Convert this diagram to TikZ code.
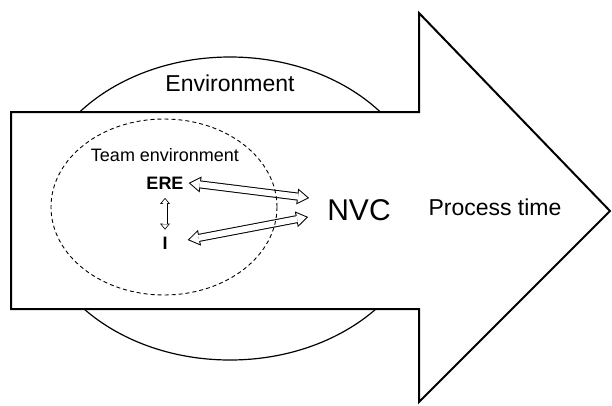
\documentclass[tikz,border=0pt]{standalone}
\usepackage{fontspec}
\setmainfont{Liberation Sans}
\usetikzlibrary{arrows.meta}

\begin{document}
\begin{tikzpicture}[x=1pt, y=-1pt,
  bigout/.style={line width=8pt, {Triangle[length=12pt,width=16pt,line width=0pt]}-{Triangle[length=12pt,width=16pt,line width=0pt]}},
  bigin/.style={white, line width=6pt, shorten <=1.8pt, shorten >=1.8pt, {Triangle[length=9.2pt,width=12.3pt,line width=0pt]}-{Triangle[length=9.2pt,width=12.3pt,line width=0pt]}},
  smallout/.style={line width=5pt, {Triangle[length=6pt,width=10pt,line width=0pt]}-{Triangle[length=6pt,width=10pt,line width=0pt]}},
  smallin/.style={white, line width=3.4pt, shorten <=1.25pt, shorten >=1.25pt, {Triangle[length=3.95pt,width=6.6pt,line width=0pt]}-{Triangle[length=3.95pt,width=6.6pt,line width=0pt]}},
  lbl/.style={inner sep=0pt}]
  \useasboundingbox (0,0) rectangle (612,405);
  % environment and process arrow
  \draw[line width=1.2pt] (230,208.5) ellipse [x radius=195pt, y radius=151.5pt];
  \draw[line width=2pt, fill=white, line join=miter] (11,112) -- (419,112) -- (419,13) -- (610,211) -- (419,402) -- (419,309) -- (11,309) -- cycle;
  \node[lbl, font=\fontsize{23}{27}\selectfont] (env) at (230,83) {Environment};
  \node[lbl, font=\fontsize{23}{27}\selectfont] (proc) at (495,207) {Process time};
  \node[lbl, font=\fontsize{30}{36}\selectfont] (nvc) at (359,210) {NVC};
  % team
  \node[lbl, font=\fontsize{18}{21}\selectfont] (team) at (165,155) {Team environment};
  \node[lbl, font=\fontsize{18}{21}\selectfont\bfseries] (ere) at (165,183) {ERE};
  \node[lbl, font=\fontsize{18}{21}\selectfont\bfseries] (i) at (165,243) {I};
  \foreach \s in {bigout,bigin}
    \draw[\s] ([xshift=5pt]ere.east) -- ([xshift=-18pt,yshift=12pt]nvc.west);
  \foreach \s in {bigout,bigin}
    \draw[\s] ([xshift=20pt,yshift=3pt]i.east) -- ([xshift=-19pt,yshift=-7pt]nvc.west);
  \foreach \s in {smallout,smallin}
    \draw[\s] ([yshift=-8.5pt]ere.south) -- ([yshift=7pt]i.north);
  \draw[line width=0.9pt, dash pattern=on 4pt off 3pt] (164,207) ellipse [x radius=113pt, y radius=88pt];
\end{tikzpicture}
\end{document}
